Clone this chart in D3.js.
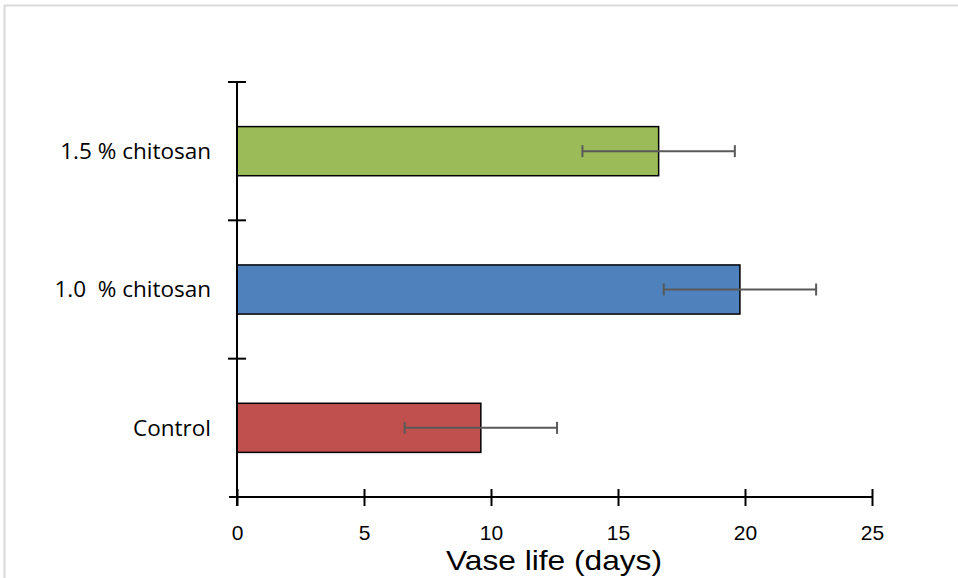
<!DOCTYPE html>
<html>
<head>
<meta charset="utf-8">
<script src="https://cdn.jsdelivr.net/npm/d3@7"></script>
<style>
  html, body { margin: 0; padding: 0; background: #fff; }
  svg { display: block; }
  .cat { white-space: pre; }
</style>
</head>
<body>
<svg id="chart" width="958" height="578"></svg>
<script>
// Treatments, bottom to top as drawn
const categories = ["Control", "1.0  % chitosan", "1.5 % chitosan"];
const vaseLife = [9.6, 19.8, 16.6];
const errors = [3.0, 3.0, 3.0];
const colors = ["#C0504D", "#4F81BD", "#9BBB59"];
const xTicks = [0, 5, 10, 15, 20, 25];
const xTitle = "Vase life (days)";

const svg = d3.select("#chart");
const W = 958, H = 578;

// Frame around the chart area
svg.append("path")
  .attr("d", `M4.5,${H} V5.5 H${W}`)
  .attr("fill", "none")
  .attr("stroke", "#d9d9d9")
  .attr("stroke-width", 2);

const plot = { left: 237, right: 872, top: 82, bottom: 497 };

const x = d3.scaleLinear().domain([0, 25]).range([plot.left, plot.right]);
const y = d3.scaleBand()
  .domain(categories.slice().reverse())
  .range([plot.top, plot.bottom])
  .paddingInner(0.645)
  .paddingOuter(0.3225);

const band = d3.scaleBand().domain(categories.slice().reverse()).range([plot.top, plot.bottom]);

// Bars
svg.append("g").selectAll("rect")
  .data(categories)
  .join("rect")
  .attr("x", x(0))
  .attr("y", d => y(d))
  .attr("width", (d, i) => x(vaseLife[i]) - x(0))
  .attr("height", y.bandwidth())
  .attr("fill", (d, i) => colors[i])
  .attr("stroke", "#000")
  .attr("stroke-width", 1.5);

// Error bars
const eb = svg.append("g").attr("stroke", "#595959").attr("stroke-width", 2).attr("fill", "none");
categories.forEach((c, i) => {
  const cy = y(c) + y.bandwidth() / 2;
  const x0 = x(vaseLife[i] - errors[i]), x1 = x(vaseLife[i] + errors[i]);
  eb.append("line").attr("x1", x0).attr("x2", x1).attr("y1", cy).attr("y2", cy);
  eb.append("line").attr("x1", x0).attr("x2", x0).attr("y1", cy - 6).attr("y2", cy + 6);
  eb.append("line").attr("x1", x1).attr("x2", x1).attr("y1", cy - 6).attr("y2", cy + 6);
});

// X axis with ticks crossing the line
const xAxis = svg.append("g")
  .attr("transform", `translate(0,${plot.bottom})`)
  .call(d3.axisBottom(x).tickValues(xTicks).tickSize(0).tickPadding(28).tickSizeOuter(0));
xAxis.select(".domain").remove();
xAxis.append("line")
  .attr("x1", plot.left - 8).attr("x2", plot.right)
  .attr("stroke", "#000").attr("stroke-width", 2);
xAxis.selectAll(".tick").append("line")
  .attr("y1", -8).attr("y2", 9)
  .attr("stroke", "#000").attr("stroke-width", 2);
xAxis.selectAll(".tick text")
  .attr("font-family", "'Liberation Sans', sans-serif")
  .attr("font-size", 21)
  .attr("fill", "#000");

// Y axis: boundaries between categories get crossing ticks
const yAxis = svg.append("g");
yAxis.append("line")
  .attr("x1", plot.left).attr("x2", plot.left)
  .attr("y1", plot.top).attr("y2", plot.bottom + 9)
  .attr("stroke", "#000").attr("stroke-width", 2);
const boundaries = band.domain().map(d => band(d));
yAxis.selectAll("line.tk")
  .data(boundaries)
  .join("line")
  .attr("class", "tk")
  .attr("x1", plot.left - 9).attr("x2", plot.left + 9)
  .attr("y1", d => d).attr("y2", d => d)
  .attr("stroke", "#000").attr("stroke-width", 2);

// Category labels
svg.append("g").selectAll("text")
  .data(categories)
  .join("text")
  .attr("class", "cat")
  .attr("x", 211)
  .attr("y", d => y(d) + y.bandwidth() / 2)
  .attr("dy", "0.35em")
  .attr("text-anchor", "end")
  .attr("font-family", "'Open Sans', sans-serif")
  .attr("font-size", 22.5)
  .attr("fill", "#000")
  .text(d => d);

// Axis title
svg.append("text")
  .attr("x", 446)
  .attr("y", 570)
  .attr("textLength", 216)
  .attr("lengthAdjust", "spacingAndGlyphs")
  .attr("font-family", "'Liberation Sans', sans-serif")
  .attr("font-size", 28)
  .attr("fill", "#000")
  .text(xTitle);
</script>
</body>
</html>
